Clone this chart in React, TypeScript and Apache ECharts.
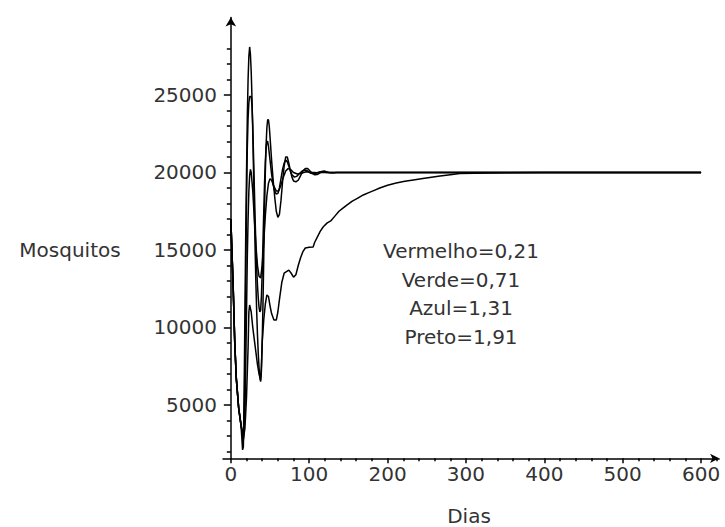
import React, { useEffect, useRef } from "react";
import * as echarts from "echarts";

// Days (x) and mosquito counts (y)
const vermelho: [number, number][] = [
  [0, 17000], [3, 12600], [5, 9000], [7, 6700], [10, 4800], [13, 3700], [16, 2800], [18, 3500],
  [20, 5500], [22, 8700], [23, 11000], [24, 11450], [26, 11000], [28, 10000], [30, 9200], [32, 8400],
  [34, 7600], [36, 7000], [38, 6600], [39, 7500], [40, 9000], [42, 10500], [44, 11500], [46, 12100],
  [48, 12000], [50, 11400], [52, 10900], [55, 10480], [58, 10480], [60, 11000], [62, 11800], [65, 12900],
  [68, 13500], [71, 13600], [74, 13700], [77, 13500], [80, 13250], [83, 13400], [86, 14000], [89, 14500],
  [92, 14900], [95, 15130], [100, 15180], [105, 15190], [107, 15500], [110, 15800], [114, 16200],
  [118, 16500], [123, 16750], [128, 16900], [133, 17200], [138, 17500], [143, 17700], [148, 17900],
  [155, 18150], [162, 18350], [169, 18550], [176, 18700], [183, 18850], [190, 19000], [200, 19180],
  [211, 19320], [222, 19430], [233, 19520], [245, 19610], [256, 19690], [267, 19770], [280, 19860],
  [292, 19940], [310, 19955], [330, 19970], [352, 19985], [400, 19995], [600, 20000],
];

const verde: [number, number][] = [
  [0, 17000], [3, 12600], [5, 9000], [7, 6700], [10, 4800], [13, 3700], [16, 3000], [18, 4500],
  [19, 7500], [20, 11000], [21, 14500], [22, 17000], [23, 18800], [24, 19800], [25, 20200], [26, 20000],
  [28, 18800], [30, 17000], [32, 15300], [34, 14000], [36, 13300], [38, 13200], [40, 14000], [42, 15500],
  [44, 17200], [46, 18500], [48, 19300], [50, 19600], [52, 19500], [55, 19100], [58, 18800], [61, 18800],
  [64, 19200], [67, 19700], [70, 20100], [73, 20250], [76, 20200], [80, 20000], [85, 19900], [90, 19950],
  [96, 20050], [102, 20020], [110, 19990], [118, 20000], [600, 20000],
];

const azul: [number, number][] = [
  [0, 17000], [3, 12600], [5, 9000], [7, 6700], [10, 4800], [13, 3700], [16, 2700], [17, 4000],
  [18, 8000], [19, 13000], [20, 18000], [21, 21500], [22, 23500], [23, 24500], [24, 24900], [26, 24900],
  [27, 24300], [28, 23000], [29, 21000], [30, 19000], [31, 17000], [32, 15200], [33, 13800], [34, 12700],
  [35, 11900], [36, 11300], [37, 11000], [38, 11100], [39, 12000], [40, 13500], [41, 15500], [42, 17500],
  [43, 19300], [44, 20700], [45, 21600], [46, 22000], [47, 22000], [48, 21700], [50, 20800], [52, 19900],
  [54, 19200], [56, 18800], [58, 18600], [60, 18650], [62, 19000], [64, 19600], [66, 20200], [68, 20600],
  [70, 20800], [72, 20700], [74, 20400], [76, 20100], [78, 19850], [81, 19700], [84, 19750], [87, 19900],
  [90, 20050], [93, 20150], [96, 20150], [99, 20050], [102, 19950], [106, 19920], [110, 19980],
  [114, 20050], [118, 20050], [122, 20000], [600, 20000],
];

const preto: [number, number][] = [
  [0, 17000], [3, 12600], [5, 9000], [7, 6700], [10, 4800], [13, 3700], [15, 2100], [16, 2300],
  [17, 6000], [18, 11000], [19, 16000], [20, 20000], [21, 23500], [22, 26000], [23, 27500], [24, 28100],
  [25, 27600], [26, 26500], [27, 24800], [28, 22500], [29, 20000], [30, 17500], [31, 15000], [32, 12800],
  [33, 11000], [34, 9500], [35, 8300], [36, 7400], [37, 6800], [38, 6500], [39, 7200], [40, 9000],
  [41, 11500], [42, 14500], [43, 17500], [44, 20000], [45, 21800], [46, 22900], [47, 23400], [48, 23400],
  [49, 23000], [50, 22300], [52, 20800], [54, 19500], [56, 18400], [58, 17500], [60, 17100], [62, 17300],
  [64, 18200], [66, 19400], [68, 20400], [70, 21000], [72, 21000], [74, 20600], [76, 20100], [78, 19700],
  [80, 19450], [83, 19400], [86, 19500], [89, 19800], [92, 20100], [95, 20250], [98, 20250],
  [101, 20100], [104, 19950], [107, 19850], [110, 19870], [113, 19950], [116, 20070], [119, 20100],
  [122, 20050], [126, 19980], [130, 19970], [135, 20000], [600, 20000],
];

const xMajorTicks = [0, 100, 200, 300, 400, 500, 600];
const xMinorTicks = [
  20, 40, 60, 80, 120, 140, 160, 180, 220, 240, 260, 280, 320, 340, 360, 380,
  420, 440, 460, 480, 520, 540, 560, 580, 620,
];
const yMajorTicks = [5000, 10000, 15000, 20000, 25000];
const yMinorTicks = [
  2000, 3000, 4000, 6000, 7000, 8000, 9000, 11000, 12000, 13000, 14000, 16000, 17000, 18000,
  19000, 21000, 22000, 23000, 24000, 26000, 27000, 28000,
];
const annotations = ["Vermelho=0,21", "Verde=0,71", "Azul=1,31", "Preto=1,91"];
const xTitle = "Dias";
const yTitle = "Mosquitos";

const FONT = '"DejaVu Sans", sans-serif';
const TXT = "#333";

export default function App() {
  const ref = useRef<HTMLDivElement>(null);
  useEffect(() => {
    if (!ref.current) return;
    const chart = echarts.init(ref.current, undefined, { renderer: "svg" });
    const xBase = { type: "value", min: -10, max: 623, position: "bottom", splitLine: { show: false } };
    const yBase = { type: "value", min: 1560, max: 30000, position: "left", splitLine: { show: false } };
    const plain = (v: number) => String(v);
    const lineSeries = (name: string, data: [number, number][]) => ({
      name,
      type: "line",
      data,
      showSymbol: false,
      symbol: "none",
      lineStyle: { color: "#000", width: 1.5 },
      xAxisIndex: 0,
      yAxisIndex: 0,
      z: 3,
    });
    chart.setOption({
      animation: false,
      backgroundColor: "#fff",
      grid: { left: 223, right: 5.9, top: 17.5, bottom: 68.7, containLabel: false },
      xAxis: [
        {
          ...xBase,
          axisLine: {
            show: true,
            onZero: false,
            symbol: ["none", "arrow"],
            symbolSize: [7, 9],
            lineStyle: { color: "#000", width: 1.5 },
          },
          axisTick: { show: true, customValues: xMajorTicks, length: 5, lineStyle: { color: "#000", width: 1.5 } },
          axisLabel: {
            show: true,
            customValues: xMajorTicks,
            formatter: plain,
            margin: 6,
            color: TXT,
            fontFamily: FONT,
            fontSize: 20,
          },
          minorTick: { show: false },
        },
        {
          ...xBase,
          axisLine: { show: false, onZero: false },
          axisTick: { show: true, customValues: xMinorTicks, length: 3, lineStyle: { color: "#000", width: 1.5 } },
          axisLabel: { show: false },
        },
      ],
      yAxis: [
        {
          ...yBase,
          axisLine: {
            show: true,
            onZero: true,
            symbol: ["none", "arrow"],
            symbolSize: [8, 9],
            lineStyle: { color: "#000", width: 1.5 },
          },
          axisTick: { show: true, customValues: yMajorTicks, length: 7, lineStyle: { color: "#000", width: 1.5 } },
          axisLabel: {
            show: true,
            customValues: yMajorTicks,
            formatter: plain,
            margin: 6,
            color: TXT,
            fontFamily: FONT,
            fontSize: 20,
          },
        },
        {
          ...yBase,
          axisLine: { show: false, onZero: true },
          axisTick: { show: true, customValues: yMinorTicks, length: 4, lineStyle: { color: "#000", width: 1.5 } },
          axisLabel: { show: false },
        },
      ],
      graphic: [
        {
          type: "text",
          x: 70,
          y: 250,
          style: { text: yTitle, fill: TXT, font: `20px ${FONT}`, align: "center", verticalAlign: "middle" },
        },
        {
          type: "text",
          x: 469,
          y: 516,
          style: { text: xTitle, fill: TXT, font: `20px ${FONT}`, align: "center", verticalAlign: "middle" },
        },
        ...annotations.map((t, i) => ({
          type: "text",
          x: 461,
          y: 251 + i * 28.5,
          style: { text: t, fill: TXT, font: `20px ${FONT}`, align: "center", verticalAlign: "middle" },
        })),
      ],
      series: [
        lineSeries("Vermelho", vermelho),
        lineSeries("Verde", verde),
        lineSeries("Azul", azul),
        lineSeries("Preto", preto),
      ],
    });
    return () => chart.dispose();
  }, []);
  return (
    <div
      ref={ref}
      style={{ position: "fixed", left: 0, top: 0, width: 725, height: 527, background: "#fff" }}
    />
  );
}
